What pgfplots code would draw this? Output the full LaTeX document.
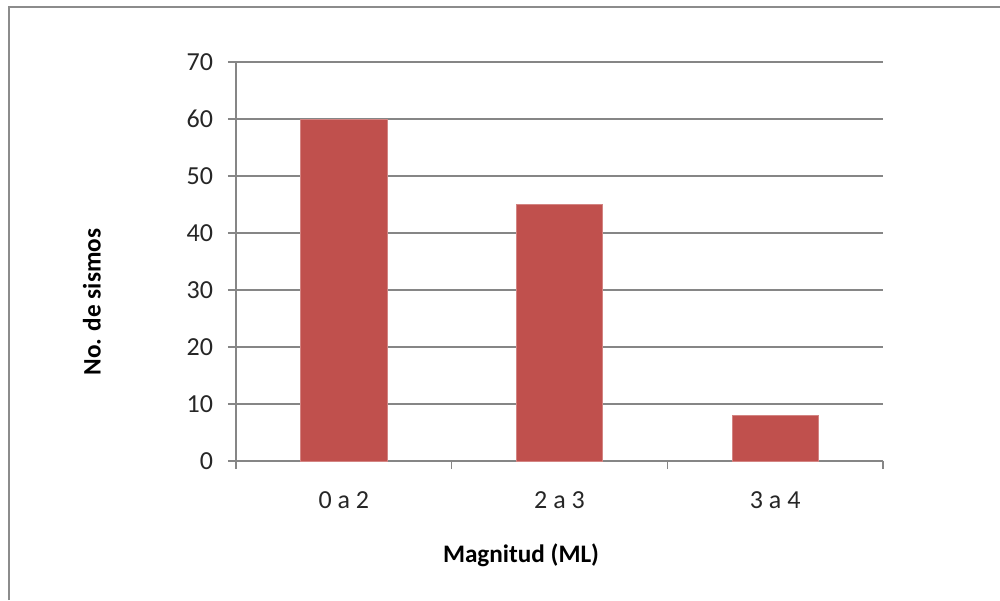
\documentclass[border=0pt]{standalone}
\usepackage{pgfplots}
\pgfplotsset{compat=1.18}
\usepackage{fontspec}
\setmainfont{Carlito}
\definecolor{barred}{HTML}{C0504D}
\definecolor{gridgray}{HTML}{868686}
\definecolor{framegray}{HTML}{8C8C8C}
\begin{document}
\begin{tikzpicture}
\useasboundingbox (0pt,0pt) rectangle (500pt,300pt);
% outer chart frame
\draw[framegray,line width=1.2pt] (4.5pt,0pt) -- (4.5pt,296.5pt) -- (500pt,296.5pt);
\begin{axis}[
  at={(118pt,69.5pt)}, anchor=south west,
  scale only axis,
  width=323.5pt, height=199.5pt,
  ybar, bar width=0.4,
  xmin=-0.5, xmax=2.5,
  ymin=0, ymax=70,
  ytick={0,10,...,70},
  % category separators carry the tick marks, names sit at the centres
  xtick={-0.5,0.5,1.5,2.5},
  xticklabels={},
  extra x ticks={0,1,2},
  extra x tick labels={0 a 2, 2 a 3, 3 a 4},
  extra x tick style={major tick length=0pt, grid=none},
  axis x line*=bottom, axis y line*=left,
  axis line style={gridgray, line width=0.6pt, -},
  ymajorgrids, grid style={gridgray, line width=0.6pt},
  tick align=outside,
  tick style={gridgray, line width=0.6pt},
  major tick length=4pt,
  tick label style={font=\fontsize{13}{15}\selectfont, text=black!85},
  /pgf/number format/assume math mode=true,
  xticklabel style={yshift=-12pt},
  yticklabel style={xshift=-4pt},
  xlabel={\textbf{Magnitud (ML)}},
  ylabel={\textbf{No. de sismos}},
  label style={font=\fontsize{12.6}{14}\selectfont},
  xlabel style={at={(axis description cs:0.4405,-0.236)}, anchor=center},
  ylabel style={at={(axis description cs:-0.2226,0.398)}, anchor=center, rotate=0},
]
\addplot[fill=barred, draw=barred!70!white, line width=0.4pt, bar shift=0pt]
  coordinates {(0,60) (1,45) (2,8)};
\end{axis}
\end{tikzpicture}
\end{document}
